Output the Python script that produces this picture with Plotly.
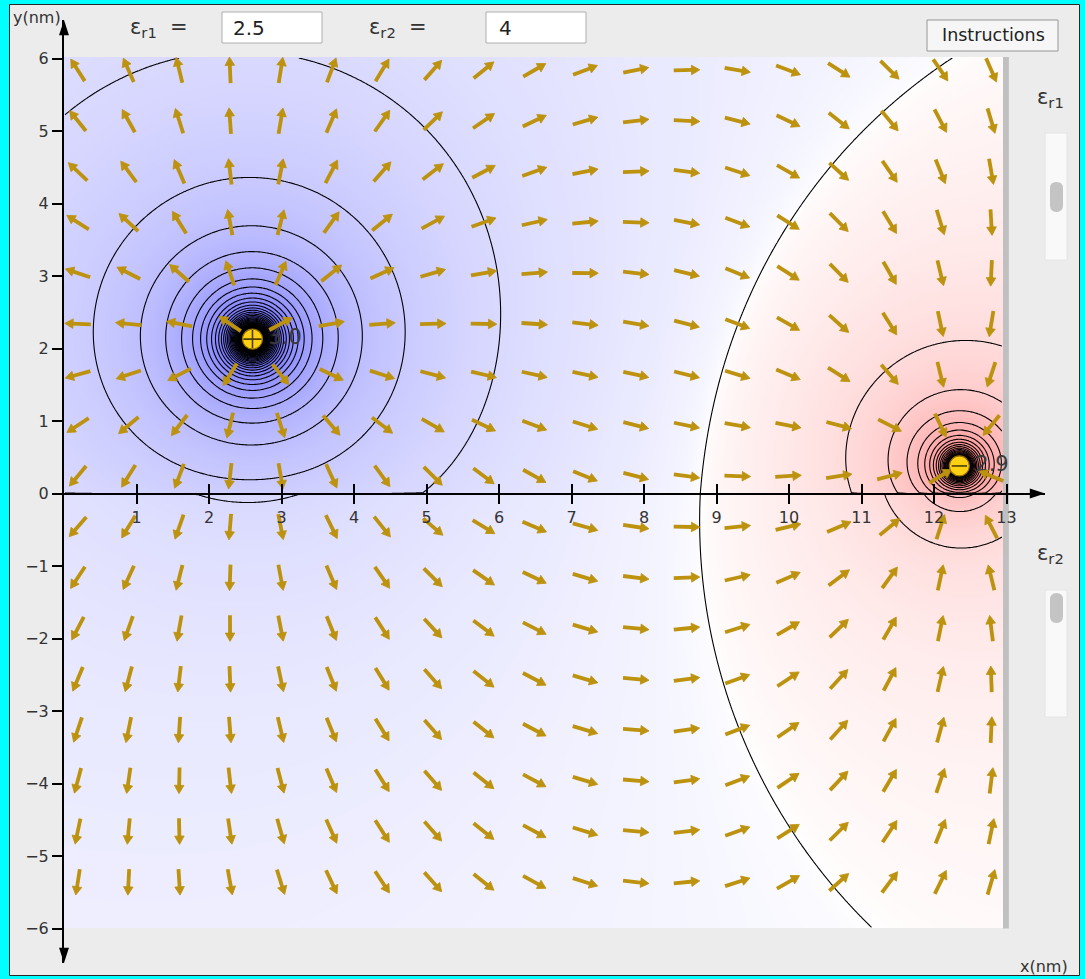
import numpy as np
import plotly.graph_objects as go

# ---------------- data ----------------
# relative permittivities: medium 1 fills y > 0, medium 2 fills y < 0
eps_r1 = 2.5
eps_r2 = 4.0

# point charges (nm) and their relative strengths
charge_x = [2.60, 12.35]
charge_y = [2.13, 0.38]
charge_q = [1.0, -0.55]
charge_text = ["3.0", "2.9"]
charge_sign = ["+", "-"]

# sampling points of the field-direction arrows (nm)
field_x = [0.19, 0.89, 1.59, 2.29, 2.99, 3.69, 4.39, 5.09, 5.79, 6.49,
           7.19, 7.89, 8.59, 9.29, 9.99, 10.69, 11.39, 12.09, 12.79]
field_y = [5.84, 5.14, 4.44, 3.74, 3.04, 2.34, 1.64, 0.94, 0.24,
           -0.46, -1.16, -1.86, -2.56, -3.26, -3.96, -4.66, -5.36]

# axis ticks
x_ticks = [1, 2, 3, 4, 5, 6, 7, 8, 9, 10, 11, 12, 13]
y_ticks = [-6, -5, -4, -3, -2, -1, 0, 1, 2, 3, 4, 5, 6]

# simulated window (nm)
region_x = [0.0, 12.95]
region_y = [-6.0, 6.02]

# spacing of the equipotential lines
contour_step = 0.0745

# ---------------- page geometry ----------------
W, H = 1085, 979
S = 72.5                 # px per nm
X0, Y0 = 64.0, 493.5     # px position of the origin
DOM_X = (64.0, 1045.0)   # px extent of the x axis
DOM_Y = (20.0, 963.0)    # px extent of the y axis
xr = [(DOM_X[0] - X0) / S, (DOM_X[1] - X0) / S]
yr = [(Y0 - DOM_Y[1]) / S, (Y0 - DOM_Y[0]) / S]

BG = "rgb(236,236,236)"
GOLD = "rgb(188,146,14)"
FONT = "DejaVu Sans"
TXT = "#333333"


def px(x, y):
    """pixel position on the page -> paper coordinates"""
    return x / W, 1 - y / H


# ---------------- image-charge model of a planar dielectric interface ----------------
beta = (eps_r2 - eps_r1) / (eps_r2 + eps_r1)
c_low = 2 * eps_r1 / (eps_r2 * (eps_r1 + eps_r2))   # weight of the charges seen from medium 2


def potential(X, Y):
    V = np.zeros_like(X, dtype=float)
    upper = Y >= 0
    for qx, qy, q in zip(charge_x, charge_y, charge_q):
        r = np.maximum(np.hypot(X - qx, Y - qy), 1e-3)
        ri = np.maximum(np.hypot(X - qx, Y + qy), 1e-3)
        V += np.where(upper, q / eps_r1 * (1 / r - beta / ri), c_low * q / r)
    return V


def field(x, y):
    ex = ey = 0.0
    for qx, qy, q in zip(charge_x, charge_y, charge_q):
        dx, dy = x - qx, y - qy
        r3 = (dx * dx + dy * dy) ** 1.5
        if y >= 0:
            dyi = y + qy
            ri3 = (dx * dx + dyi * dyi) ** 1.5
            ex += q / eps_r1 * (dx / r3 - beta * dx / ri3)
            ey += q / eps_r1 * (dy / r3 - beta * dyi / ri3)
        else:
            ex += c_low * q * dx / r3
            ey += c_low * q * dy / r3
    return ex, ey


nx, ny = 518, 481
gx = region_x[0] + (np.arange(nx) + 0.5) * (region_x[1] - region_x[0]) / nx
gy = region_y[0] + (np.arange(ny) + 0.5) * (region_y[1] - region_y[0]) / ny
GX, GY = np.meshgrid(gx, gy)
V = potential(GX, GY)

# colour shading: compressed potential, blue for positive, red for negative
VSAT = 1.2
shade = (np.sign(V) * np.clip(np.abs(V) / VSAT, 0, 1) ** 0.5).astype(np.float32)
vlines = np.clip(V, -3.1, 3.1).astype(np.float32)

fig = go.Figure()

fig.add_trace(go.Heatmap(
    x=gx, y=gy, z=shade, zmin=-1, zmax=1, zsmooth="best",
    colorscale=[[0.0, "rgb(255,110,110)"], [0.5, "rgb(255,255,255)"],
                [1.0, "rgb(104,104,255)"]],
    showscale=False, hoverinfo="skip"))

n_lev = 42
fig.add_trace(go.Contour(
    x=gx, y=gy, z=vlines,
    contours=dict(start=-n_lev * contour_step, end=n_lev * contour_step,
                  size=contour_step, coloring="none"),
    line=dict(color="black", width=1.1),
    showscale=False, hoverinfo="skip"))

# charge value labels
fig.add_trace(go.Scatter(
    x=[cx + 0.45 for cx in charge_x], y=charge_y, mode="text",
    text=charge_text, textposition="middle center",
    textfont=dict(family=FONT, size=21, color="#3a3a3a"),
    hoverinfo="skip"))

# field-direction arrows of fixed length, centred on the sampling points
L = 0.36          # total arrow length (nm)
HL = 0.115        # head length
HW = 0.066        # half width of the head
shaft_x, shaft_y, head_x, head_y = [], [], [], []
for fy in field_y:
    for fx in field_x:
        ex, ey = field(fx, fy)
        n = np.hypot(ex, ey)
        ux, uy = ex / n, ey / n
        tx, ty = fx - ux * L / 2, fy - uy * L / 2
        hx, hy = fx + ux * L / 2, fy + uy * L / 2
        bx, by = hx - ux * HL, hy - uy * HL
        shaft_x += [tx, bx + ux * 0.02, None]
        shaft_y += [ty, by + uy * 0.02, None]
        head_x += [hx, bx - uy * HW, bx + uy * HW, hx, None]
        head_y += [hy, by + ux * HW, by - ux * HW, hy, None]
fig.add_trace(go.Scatter(
    x=shaft_x, y=shaft_y, mode="lines",
    line=dict(color=GOLD, width=3.8), hoverinfo="skip"))
fig.add_trace(go.Scatter(
    x=head_x, y=head_y, mode="lines", fill="toself", fillcolor=GOLD,
    line=dict(color=GOLD, width=0.8), hoverinfo="skip"))

# the charges
fig.add_trace(go.Scatter(
    x=charge_x, y=charge_y, mode="markers",
    marker=dict(symbol="circle", size=20, color="rgb(255,208,20)",
                line=dict(color="rgb(150,115,0)", width=1.2)),
    hoverinfo="skip"))
fig.add_trace(go.Scatter(
    x=charge_x, y=charge_y, mode="markers",
    marker=dict(symbol=["cross-thin-open" if s == "+" else "line-ew-open" for s in charge_sign],
                size=[13 if s == "+" else 11 for s in charge_sign],
                color="black", line=dict(color="black", width=1.6)),
    hoverinfo="skip"))

# arrow heads at the ends of both axes
fig.add_trace(go.Scatter(
    x=[xr[1], 0, 0], y=[0, yr[1], yr[0]], mode="markers", xaxis="x2",
    marker=dict(symbol="arrow", size=16, angle=[90, 0, 180], color="black",
                line=dict(width=0)),
    cliponaxis=False, hoverinfo="skip"))

# ---------------- decorations ----------------
shapes = []
# bar on the right edge of the window
shapes.append(dict(type="rect", xref="x", yref="y", x0=region_x[1], x1=region_x[1] + 6 / S,
                   y0=region_y[0], y1=region_y[1], line=dict(width=0),
                   fillcolor="rgb(192,192,192)", layer="below"))


def rect_px(x0, y0, x1, y1, fill, line_color, lw=1):
    a, b = px(x0, y0)
    c, d = px(x1, y1)
    return dict(type="rect", xref="paper", yref="paper", x0=a, y0=d, x1=c, y1=b,
                fillcolor=fill, line=dict(color=line_color, width=lw), layer="above")


def pill_px(x0, y0, x1, y1, fill):
    r = (x1 - x0) / 2

    def P(x, y):
        a, b = px(x, y)
        return f"{a:.6f},{b:.6f}"
    path = (f"M {P(x0, y0 + r)} Q {P(x0, y0)} {P(x0 + r, y0)} Q {P(x1, y0)} {P(x1, y0 + r)} "
            f"L {P(x1, y1 - r)} Q {P(x1, y1)} {P(x0 + r, y1)} Q {P(x0, y1)} {P(x0, y1 - r)} Z")
    return dict(type="path", xref="paper", yref="paper", path=path, fillcolor=fill,
                line=dict(width=0), layer="above")


# entry boxes
shapes.append(rect_px(222, 12, 322, 43, "white", "rgb(175,175,175)"))
shapes.append(rect_px(486, 12, 586, 43, "white", "rgb(175,175,175)"))
# button
shapes.append(rect_px(927, 20, 1058, 51, "rgb(246,246,246)", "rgb(150,150,150)"))
# slider tracks and thumbs
shapes.append(rect_px(1045, 133, 1067, 260, "rgb(249,249,249)", "rgb(228,228,228)"))
shapes.append(pill_px(1050, 182, 1063, 212, "rgb(196,196,196)"))
shapes.append(rect_px(1045, 590, 1067, 717, "rgb(249,249,249)", "rgb(228,228,228)"))
shapes.append(pill_px(1050, 593, 1063, 623, "rgb(196,196,196)"))
# frame
CY = "rgb(0,255,255)"
shapes.append(rect_px(0, 0, 9, H, CY, CY, 0))
shapes.append(rect_px(0, 0, W, 4, CY, CY, 0))
shapes.append(rect_px(1080, 0, W, H, CY, CY, 0))
shapes.append(rect_px(0, 976, W, H, CY, CY, 0))
shapes.append(dict(type="rect", xref="paper", yref="paper",
                   x0=9.5 / W, x1=1079.5 / W, y0=1 - 975.5 / H, y1=1 - 4.5 / H,
                   line=dict(color="rgb(40,40,40)", width=1), layer="above"))

annotations = []


def label(text, x, y, size, anchor="left", color=TXT):
    a, b = px(x, y)
    annotations.append(dict(text=text, x=a, y=b, xref="paper", yref="paper",
                            xanchor=anchor, yanchor="middle", showarrow=False,
                            font=dict(family=FONT, size=size, color=color)))


label("y(nm)", 37, 17, 16, "center")
label("x(nm)", 1044, 966, 16, "center")
label("ε<sub>r1</sub>\u00a0\u00a0=", 128, 28, 21)
label("ε<sub>r2</sub>\u00a0\u00a0=", 367, 28, 21)
label(f"{eps_r1:g}", 231, 28, 20, color="#222222")
label(f"{eps_r2:g}", 497, 28, 20, color="#222222")
label("Instructions", 993, 35, 17.5, "center", color="#222222")
label("ε<sub>r1</sub>", 1035, 98, 21)
label("ε<sub>r2</sub>", 1035, 554, 21)

axis_common = dict(showgrid=False, zeroline=False, fixedrange=True,
                   tickfont=dict(family=FONT, size=16, color=TXT))

fig.update_layout(
    width=W, height=H, margin=dict(l=0, r=0, t=0, b=0),
    paper_bgcolor=BG, plot_bgcolor=BG, showlegend=False,
    xaxis=dict(domain=[DOM_X[0] / W, DOM_X[1] / W], range=xr, autorange=False,
               anchor="free", position=(H - Y0) / H,
               showline=True, linecolor="black", linewidth=2,
               ticks="outside", ticklen=9, tickwidth=1.5, tickcolor="black",
               tickvals=x_ticks, ticktext=[str(t) for t in x_ticks], **axis_common),
    xaxis2=dict(domain=[DOM_X[0] / W, DOM_X[1] / W], range=xr, autorange=False,
                overlaying="x", anchor="free", position=(H - Y0) / H,
                showline=False, ticks="inside", ticklen=10, tickwidth=1.5,
                tickcolor="black", tickvals=x_ticks, showticklabels=False,
                **axis_common),
    yaxis=dict(domain=[1 - DOM_Y[1] / H, 1 - DOM_Y[0] / H], range=yr, autorange=False,
               anchor="x", showline=True, linecolor="black", linewidth=2,
               ticks="outside", ticklen=10, tickwidth=1.5, tickcolor="black",
               tickvals=y_ticks, ticktext=[str(t).replace("-", "\u2212") for t in y_ticks],
               **axis_common),
    shapes=shapes, annotations=annotations,
)

fig.write_html("out.html")
